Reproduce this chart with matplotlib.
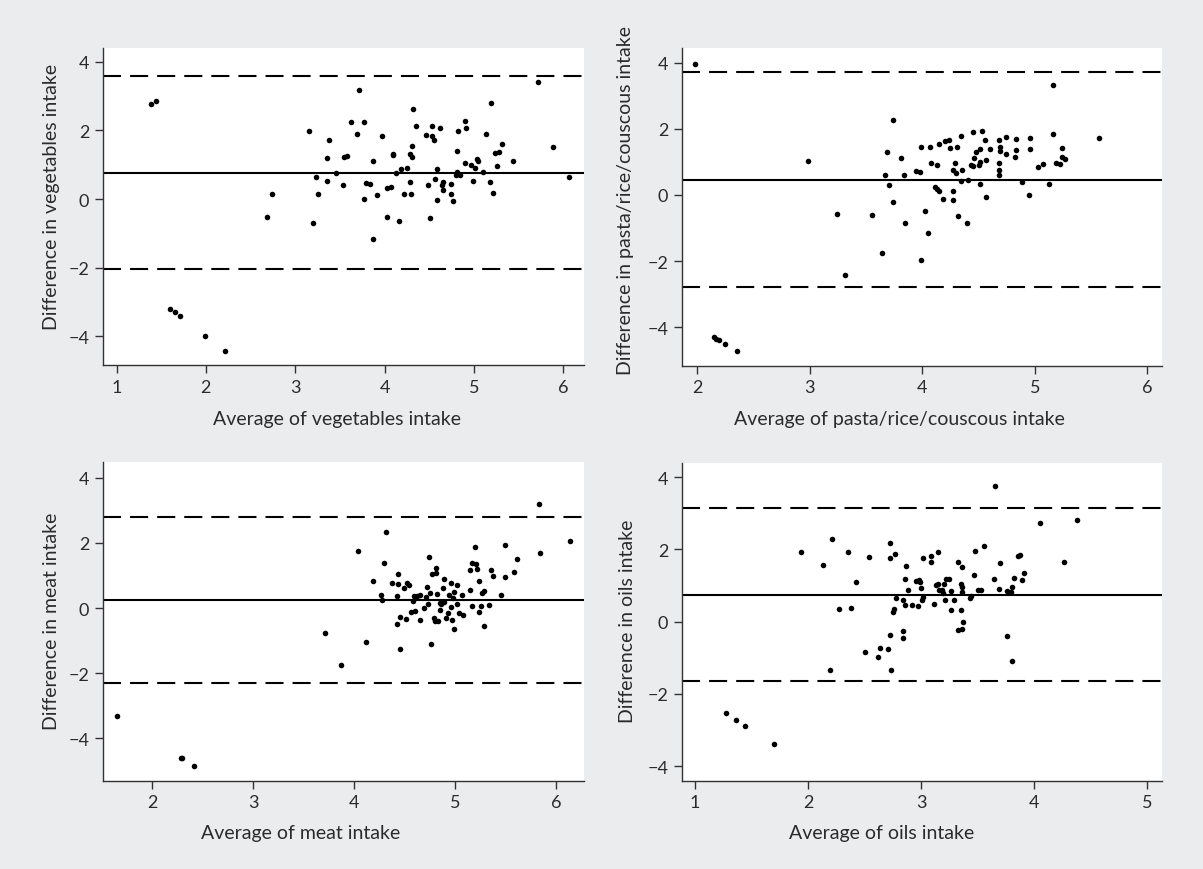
import matplotlib
matplotlib.use("Agg")
import matplotlib.pyplot as plt
import numpy as np

plt.rcParams['font.family'] = ['Lato', 'DejaVu Sans']
plt.rcParams['lines.scale_dashes'] = False

# ---------------- data ----------------
veg_avg = [1.39, 1.44, 1.60, 1.66, 1.71, 1.99, 2.21, 2.68, 2.74, 3.15, 3.20, 3.23, 3.25, 3.36, 3.36,
           3.38, 3.46, 3.54, 3.55, 3.58, 3.62, 3.69, 3.71, 3.77, 3.77, 3.79, 3.84, 3.87, 3.87, 3.92,
           3.97, 4.03, 4.03, 4.07, 4.09, 4.10, 4.13, 4.16, 4.19, 4.22, 4.25, 4.28, 4.29, 4.30, 4.31,
           4.31, 4.32, 4.35, 4.46, 4.49, 4.51, 4.53, 4.53, 4.55, 4.57, 4.59, 4.59, 4.62, 4.64, 4.65,
           4.66, 4.74, 4.75, 4.77, 4.81, 4.80, 4.81, 4.82, 4.85, 4.90, 4.91, 4.90, 4.97, 4.99, 5.01,
           5.04, 5.05, 5.10, 5.14, 5.18, 5.19, 5.22, 5.24, 5.26, 5.28, 5.31, 5.44, 5.72, 5.89, 6.06]
veg_diff = [2.76, 2.85, -3.21, -3.30, -3.42, -3.98, -4.43, -0.52, 0.15, 1.97, -0.71, 0.65, 0.15, 1.20, 0.52,
            1.71, 0.75, 0.40, 1.21, 1.26, 2.25, 1.90, 3.17, 2.25, 0.01, 0.48, 0.43, 1.10, -1.16, 0.12,
            1.84, 0.32, -0.52, 0.35, 1.31, 1.28, 0.76, -0.63, 0.86, 0.15, 0.90, 1.32, 0.50, 0.14, 1.21,
            1.54, 2.62, 2.12, 1.86, 0.40, -0.54, 2.13, 1.84, 1.71, 0.58, 0.86, -0.02, 2.08, 0.42, 0.26,
            0.51, 0.44, 0.15, -0.07, 1.41, 0.70, 0.78, 1.97, 0.69, 2.28, 2.08, 1.06, 0.99, 0.52, 0.91,
            1.17, 1.10, 0.78, 1.88, 0.51, 2.80, 0.19, 1.35, 0.95, 1.38, 1.60, 1.11, 3.42, 1.51, 0.65]
veg_loa = [0.77, 3.58, -2.03]

pasta_avg = [1.98, 2.15, 2.17, 2.19, 2.25, 2.35, 2.98, 3.24, 3.31, 3.55, 3.64, 3.67, 3.69, 3.70, 3.74,
             3.74, 3.81, 3.84, 3.85, 3.94, 3.98, 3.99, 3.99, 4.02, 4.05, 4.07, 4.08, 4.11, 4.13, 4.13,
             4.15, 4.15, 4.18, 4.20, 4.24, 4.25, 4.27, 4.27, 4.27, 4.29, 4.30, 4.31, 4.32, 4.34, 4.34,
             4.35, 4.40, 4.41, 4.43, 4.45, 4.45, 4.46, 4.48, 4.50, 4.51, 4.51, 4.51, 4.53, 4.56, 4.57,
             4.57, 4.60, 4.68, 4.68, 4.68, 4.68, 4.69, 4.69, 4.74, 4.74, 4.82, 4.83, 4.83, 4.89, 4.95,
             4.96, 4.96, 5.03, 5.07, 5.13, 5.16, 5.16, 5.19, 5.22, 5.24, 5.24, 5.27, 5.57]
pasta_diff = [3.95, -4.30, -4.35, -4.38, -4.50, -4.71, 1.02, -0.57, -2.43, -0.59, -1.74, 0.60, 1.29, 0.29, 2.27,
              -0.22, 1.13, 0.61, -0.84, 0.72, 0.69, 1.46, -1.95, -0.48, -1.14, 1.46, 0.98, 0.25, 0.90, 0.18,
              0.11, 1.55, -0.13, 1.63, 1.66, 1.41, 0.75, 0.12, -0.15, 0.96, 0.66, 1.45, -0.63, 1.78, 0.42,
              0.74, -0.85, 0.45, 0.91, 1.91, 0.87, 1.12, 1.30, 0.91, 1.40, 0.34, 1.01, 1.94, 1.67, 1.07,
              -0.07, 1.39, 1.67, 0.98, 0.75, 0.61, 1.44, 1.33, 1.76, 1.23, 1.14, 1.70, 1.37, 0.38, 0.01,
              1.71, 1.38, 0.83, 0.95, 0.34, 3.31, 1.85, 0.97, 0.95, 1.43, 1.16, 1.09, 1.73]
pasta_loa = [0.46, 3.71, -2.79]

meat_avg = [1.65, 2.29, 2.30, 2.42, 3.71, 3.87, 4.04, 4.12, 4.19, 4.26, 4.27, 4.29, 4.31, 4.37, 4.42,
            4.42, 4.43, 4.43, 4.45, 4.45, 4.49, 4.51, 4.52, 4.54, 4.56, 4.58, 4.59, 4.60, 4.62, 4.65,
            4.65, 4.69, 4.71, 4.72, 4.73, 4.74, 4.75, 4.76, 4.77, 4.79, 4.80, 4.81, 4.81, 4.82, 4.83,
            4.85, 4.85, 4.86, 4.88, 4.89, 4.89, 4.91, 4.93, 4.94, 4.96, 4.96, 4.97, 4.98, 4.99, 4.99,
            5.02, 5.02, 5.04, 5.07, 5.08, 5.15, 5.15, 5.17, 5.17, 5.19, 5.20, 5.21, 5.23, 5.23, 5.25,
            5.26, 5.28, 5.28, 5.33, 5.35, 5.37, 5.45, 5.49, 5.49, 5.58, 5.61, 5.83, 5.84, 6.13]
meat_diff = [-3.31, -4.61, -4.62, -4.86, -0.76, -1.75, 1.75, -1.03, 0.83, 0.40, 0.24, 1.37, 2.33, 0.78, 0.37,
             -0.48, 1.04, 0.75, -0.28, -1.26, 0.61, -0.35, 0.77, 0.71, -0.11, 0.21, 0.37, -0.09, 0.37, -0.38,
             0.39, -0.01, 0.33, 0.64, 0.11, 1.58, 0.46, -1.12, 1.05, -0.32, -0.41, 1.23, 1.09, 0.42, -0.41,
             0.16, -0.07, 0.11, 0.63, 0.89, 0.18, -0.31, -0.16, 0.41, 0.78, 0.02, -0.37, 0.32, 0.48, -0.66,
             0.72, 0.12, -0.14, 0.40, -0.22, 0.56, 1.18, 1.38, 0.07, 1.89, 1.35, 1.19, 0.84, -0.11, 0.06,
             0.47, -0.56, 0.52, 0.08, 1.17, 0.98, 0.40, 0.94, 1.93, 1.11, 1.50, 3.19, 1.69, 2.07]
meat_loa = [0.24, 2.80, -2.31]

oils_avg = [1.27, 1.36, 1.44, 1.70, 1.94, 2.13, 2.19, 2.21, 2.27, 2.35, 2.38, 2.42, 2.50, 2.54, 2.62,
            2.64, 2.71, 2.72, 2.72, 2.72, 2.73, 2.75, 2.76, 2.77, 2.78, 2.84, 2.84, 2.84, 2.86, 2.86,
            2.87, 2.88, 2.92, 2.95, 2.97, 2.98, 2.99, 3.00, 3.01, 3.02, 3.02, 3.09, 3.09, 3.11, 3.13,
            3.15, 3.15, 3.16, 3.18, 3.19, 3.20, 3.21, 3.22, 3.25, 3.26, 3.26, 3.29, 3.33, 3.33, 3.35,
            3.35, 3.36, 3.36, 3.36, 3.36, 3.37, 3.43, 3.44, 3.47, 3.48, 3.50, 3.53, 3.56, 3.64, 3.65,
            3.69, 3.70, 3.76, 3.76, 3.79, 3.80, 3.80, 3.82, 3.86, 3.87, 3.89, 3.91, 4.05, 4.26, 4.38]
oils_diff = [-2.54, -2.71, -2.88, -3.38, 1.94, 1.56, -1.34, 2.30, 0.36, 1.92, 0.38, 1.10, -0.85, 1.78, -0.97,
             -0.72, -0.75, 2.19, 1.77, -0.38, -1.34, 0.27, 0.35, 1.87, 0.65, 0.59, -0.25, -0.45, 1.17, 0.46,
             1.53, 0.87, 0.45, 1.12, 0.44, 1.16, 1.11, 0.92, 0.59, 0.69, 1.75, 1.82, 1.65, 0.50, 1.01,
             1.94, 1.04, 0.89, 0.87, 0.78, 1.04, 0.59, 1.19, 1.17, 0.84, 0.31, 0.59, 1.65, -0.23, 1.05,
             0.32, 1.50, 0.97, 0.83, -0.19, -0.02, 0.66, 0.71, 1.28, 1.95, 0.87, 0.88, 2.09, 1.19, 3.76,
             0.91, 1.63, -0.39, 0.85, 0.83, 0.96, -1.10, 1.22, 1.83, 1.84, 1.14, 1.35, 2.72, 1.64, 2.80]
oils_loa = [0.74, 3.14, -1.65]

panels = [
    dict(x=veg_avg, y=veg_diff, loa=veg_loa, xlabel="Average of vegetables intake",
         ylabel="Difference in vegetables intake", xlim=(0.843, 6.23), ylim=(-4.84, 4.39),
         xticks=[1, 2, 3, 4, 5, 6], xl=(0.488, -0.167), yl=(-0.107, 0.534)),
    dict(x=pasta_avg, y=pasta_diff, loa=pasta_loa, xlabel="Average of pasta/rice/couscous intake",
         ylabel="Difference in pasta/rice/couscous intake", xlim=(1.86, 6.13), ylim=(-5.15, 4.43),
         xticks=[2, 3, 4, 5, 6], xl=(0.453, -0.167), yl=(-0.117, 0.523)),
    dict(x=meat_avg, y=meat_diff, loa=meat_loa, xlabel="Average of meat intake",
         ylabel="Difference in meat intake", xlim=(1.51, 6.27), ylim=(-5.31, 4.48),
         xticks=[2, 3, 4, 5, 6], xl=(0.4125, -0.162), yl=(-0.107, 0.505)),
    dict(x=oils_avg, y=oils_diff, loa=oils_loa, xlabel="Average of oils intake",
         ylabel="Difference in oils intake", xlim=(0.88, 5.13), ylim=(-4.40, 4.39),
         xticks=[1, 2, 3, 4, 5], xl=(0.417, -0.162), yl=(-0.112, 0.505)),
]
yticks = [-4, -2, 0, 2, 4]

W, H = 1203, 870
bg = '#ebeced'
fig = plt.figure(figsize=(W / 100, H / 100), dpi=100, facecolor=bg)

boxes = [(102.5, 49.3, 583.7, 366.2), (681.5, 49.3, 1162, 366.5),
         (102.5, 463.3, 583.7, 781.7), (681.5, 464.0, 1162, 781.7)]
txt = '#2b2b2b'
fs = 14
for p, (l, t, r, b) in zip(panels, boxes):
    ax = fig.add_axes([l / W, 1 - b / H, (r - l) / W, (b - t) / H])
    ax.set_facecolor('white')
    ax.plot(p['x'], p['y'], 'o', color='black', markersize=4.0, markeredgewidth=0)
    ax.axhline(p['loa'][0], color='black', linewidth=1.5)
    for v in p['loa'][1:]:
        ax.axhline(v, color='black', linewidth=1.5, linestyle=(0, (13, 6.5)))
    ax.set_xlim(*p['xlim'])
    ax.set_ylim(*p['ylim'])
    ax.set_xticks(p['xticks'])
    ax.set_yticks(yticks)
    ax.set_yticklabels(['\u22124', '\u22122', '0', '2', '4'])
    for s in ['top', 'right']:
        ax.spines[s].set_visible(False)
    for s in ['left', 'bottom']:
        ax.spines[s].set_color('#333333')
        ax.spines[s].set_linewidth(1.0)
    ax.tick_params(direction='out', length=5.8, width=1.0, color='#333333',
                   labelsize=13, labelcolor=txt, pad=3.8)
    ax.set_xlabel(p['xlabel'], fontsize=fs, color=txt, va='center')
    ax.set_ylabel(p['ylabel'], fontsize=fs, color=txt, va='center')
    ax.xaxis.set_label_coords(*p['xl'])
    ax.yaxis.set_label_coords(*p['yl'])

fig.savefig('out.png', dpi=100, facecolor=bg)
